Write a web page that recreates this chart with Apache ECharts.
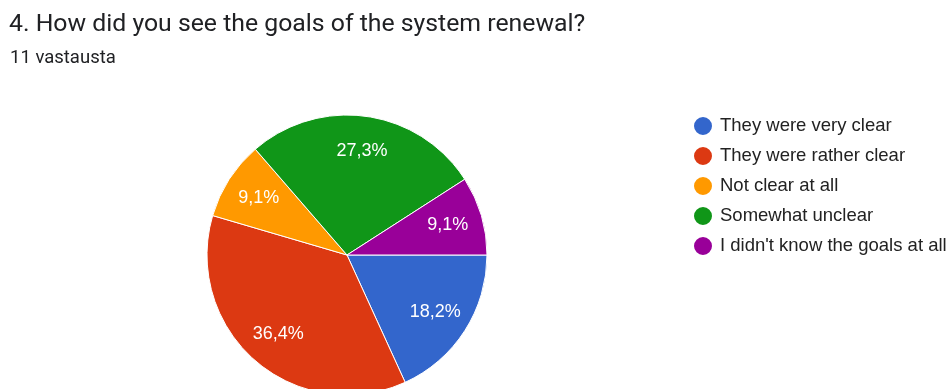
<!DOCTYPE html>
<html>
<head>
<meta charset="utf-8">
<script src="https://cdn.jsdelivr.net/npm/echarts@6/dist/echarts.min.js"></script>
<style>
  html, body { margin: 0; padding: 0; background: #fff; }
  #chart { width: 949px; height: 389px; }
</style>
</head>
<body>
<div id="chart"></div>
<script>
// Survey answers: share of respondents (percent) per option
const categories = [
  'They were very clear',
  'They were rather clear',
  'Not clear at all',
  'Somewhat unclear',
  "I didn't know the goals at all"
];
const percents = [18.2, 36.4, 9.1, 27.3, 9.1];
const colors = ['#3366cc', '#dc3912', '#ff9900', '#109618', '#990099'];

const titleText = '4. How did you see the goals of the system renewal?';
const subtitleText = '11 vastausta';

const pieData = categories.map((name, i) => ({ name, value: percents[i] }));
const fmt = p => p.value.toFixed(1).replace('.', ',') + '%';

const chart = echarts.init(document.getElementById('chart'), null, { renderer: 'canvas' });
chart.setOption({
  animation: false,
  color: colors,
  title: [
    {
      text: titleText,
      left: 9,
      top: 10,
      padding: 0,
      textStyle: { fontFamily: 'Roboto', fontSize: 24.8, lineHeight: 30, fontWeight: 'normal', color: '#202124' }
    },
    {
      text: subtitleText,
      left: 10,
      top: 47,
      padding: 0,
      textStyle: { fontFamily: 'Roboto', fontSize: 18.5, lineHeight: 22, fontWeight: 'normal', color: '#202124' }
    }
  ],
  legend: {
    orient: 'vertical',
    left: 687,
    top: 110,
    icon: 'circle',
    itemWidth: 20,
    itemHeight: 20,
    itemGap: 8,
    data: categories,
    textStyle: {
      fontFamily: 'Liberation Sans',
      fontSize: 18.5,
      color: '#222',
      padding: [0, 0, 0, 2]
    }
  },
  series: [
    {
      name: 'answers',
      type: 'pie',
      center: [347, 255],
      radius: [0, 140],
      startAngle: 0,
      clockwise: true,
      label: { show: false },
      labelLine: { show: false },
      itemStyle: { borderColor: '#fff', borderWidth: 1 },
      emphasis: { disabled: true },
      data: pieData
    },
    {
      // transparent ring used only to place the percentage labels further out
      name: 'labels',
      type: 'pie',
      center: [347, 255],
      radius: [64, 140],
      startAngle: 0,
      clockwise: true,
      silent: true,
      itemStyle: { color: 'rgba(0,0,0,0)', borderWidth: 0 },
      label: {
        show: true,
        position: 'inside',
        formatter: fmt,
        color: '#fff',
        fontFamily: 'Liberation Sans',
        fontSize: 18
      },
      labelLine: { show: false },
      emphasis: { disabled: true },
      data: pieData
    }
  ]
});
</script>
</body>
</html>
